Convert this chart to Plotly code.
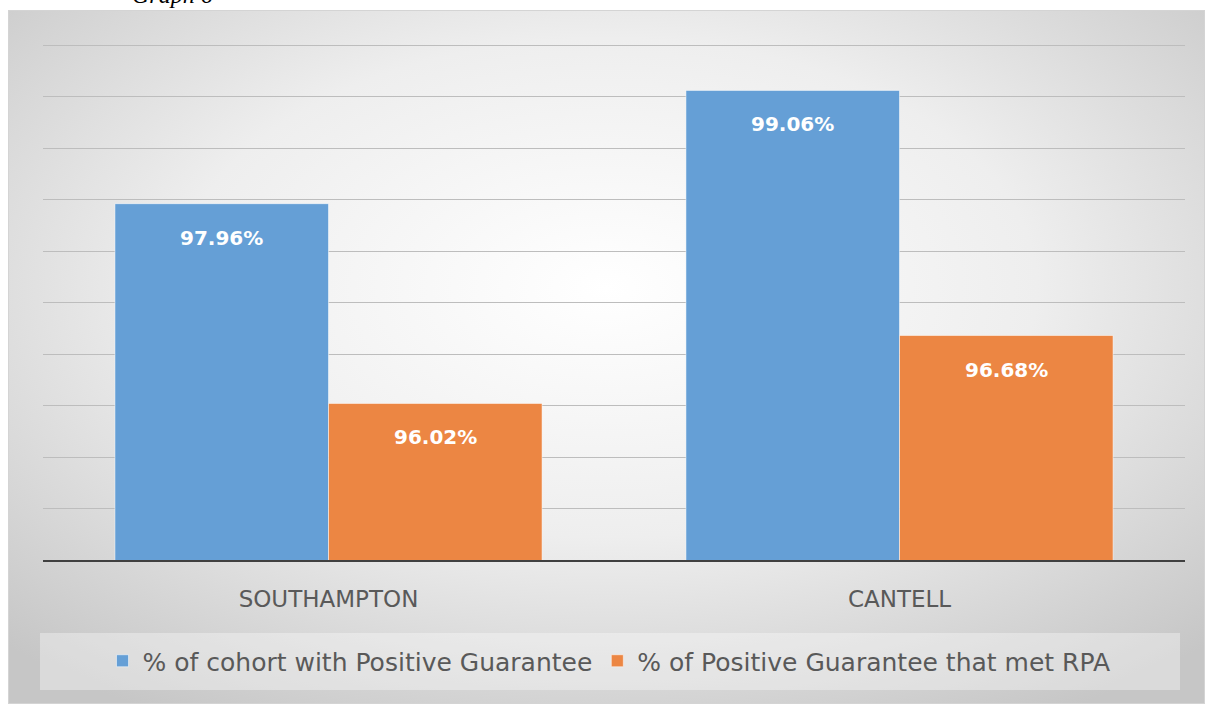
import base64
import plotly.graph_objects as go

# data
sites = ["SOUTHAMPTON", "CANTELL"]
pos_guarantee = [97.96, 99.06]
met_rpa = [96.02, 96.68]
series_names = ["% of cohort with Positive Guarantee", "% of Positive Guarantee that met RPA"]
colors = ["#659fd6", "#ec8643"]

W, H = 1214, 704
L, R, T, B = 43, 29, 42, 144
pw, ph = W - L - R, H - T - B


def px_x(x):
    return (x - L) / pw


def px_y(y):
    return (H - B - y) / ph


# grey radial-gradient panel behind the chart
svg = """<svg xmlns='http://www.w3.org/2000/svg' width='1197' height='694' viewBox='0 0 1197 694' preserveAspectRatio='none'>
<defs><radialGradient id='g' cx='50%' cy='40%' r='72%'>
<stop offset='0' stop-color='#ffffff'/><stop offset='0.5' stop-color='#eeeeee'/><stop offset='1' stop-color='#c6c6c6'/>
</radialGradient></defs>
<rect x='0.5' y='0.5' width='1196' height='693' fill='url(#g)' stroke='#d4d4d4' stroke-width='1'/>
</svg>"""
bg_src = "data:image/svg+xml;base64," + base64.b64encode(svg.encode()).decode()

fig = go.Figure()
for name, vals, col in zip(series_names, [pos_guarantee, met_rpa], colors):
    fig.add_trace(go.Bar(
        x=sites, y=vals, name=name,
        marker=dict(color=col, line=dict(color="rgba(255,255,255,0.5)", width=1)),
        hoverinfo="x+y",
    ))

# value labels near the top of each bar
for i, vals in enumerate([pos_guarantee, met_rpa]):
    for s, v in zip(sites, vals):
        fig.add_annotation(
            x=s, y=v, xref="x", yref="y", text=f"<b>{v:.2f}%</b>",
            showarrow=False, xshift=(-1 if i == 0 else 1) * 107, yshift=-34,
            font=dict(family="DejaVu Sans", size=20, color="white"),
        )

fig.add_annotation(
    x=px_x(130), y=px_y(-5), xref="paper", yref="paper", xanchor="left", yanchor="middle",
    text="<i>Graph 6</i>", showarrow=False,
    font=dict(family="Liberation Serif", size=24, color="black"),
)

fig.add_layout_image(
    source=bg_src, xref="paper", yref="paper",
    x=px_x(8), y=px_y(10), sizex=1197 / pw, sizey=694 / ph,
    xanchor="left", yanchor="top", sizing="stretch", layer="below",
)

fig.add_shape(
    type="rect", xref="paper", yref="paper",
    x0=px_x(40), x1=px_x(1180), y0=px_y(690), y1=px_y(633),
    fillcolor="rgba(255,255,255,0.35)", line=dict(width=0), layer="below",
)

fig.update_layout(
    width=W, height=H,
    margin=dict(l=L, r=R, t=T, b=B),
    paper_bgcolor="white",
    plot_bgcolor="rgba(0,0,0,0)",
    barmode="group",
    bargap=0.252,
    bargroupgap=0.0,
    showlegend=True,
    legend=dict(
        orientation="h", x=px_x(609), xanchor="center", y=px_y(661), yanchor="middle",
        bgcolor="rgba(0,0,0,0)", font=dict(family="DejaVu Sans", size=25, color="#595959"),
        itemwidth=30,
    ),
    xaxis=dict(
        showline=True, linecolor="#404040", linewidth=2,
        tickfont=dict(family="DejaVu Sans", size=23, color="#595959"),
        ticks="", ticklabelstandoff=17, showgrid=False,
    ),
    yaxis=dict(
        range=[94.5, 99.53], tick0=94.5, dtick=0.5, showticklabels=False,
        showgrid=True, gridcolor="#bdbdbd", gridwidth=1, zeroline=False,
    ),
)

# page has a default 8px body margin; drop it so the figure sits at the window corner
fig.write_html("out.html", config={"displayModeBar": False},
               post_script="document.body.style.margin='0';")
